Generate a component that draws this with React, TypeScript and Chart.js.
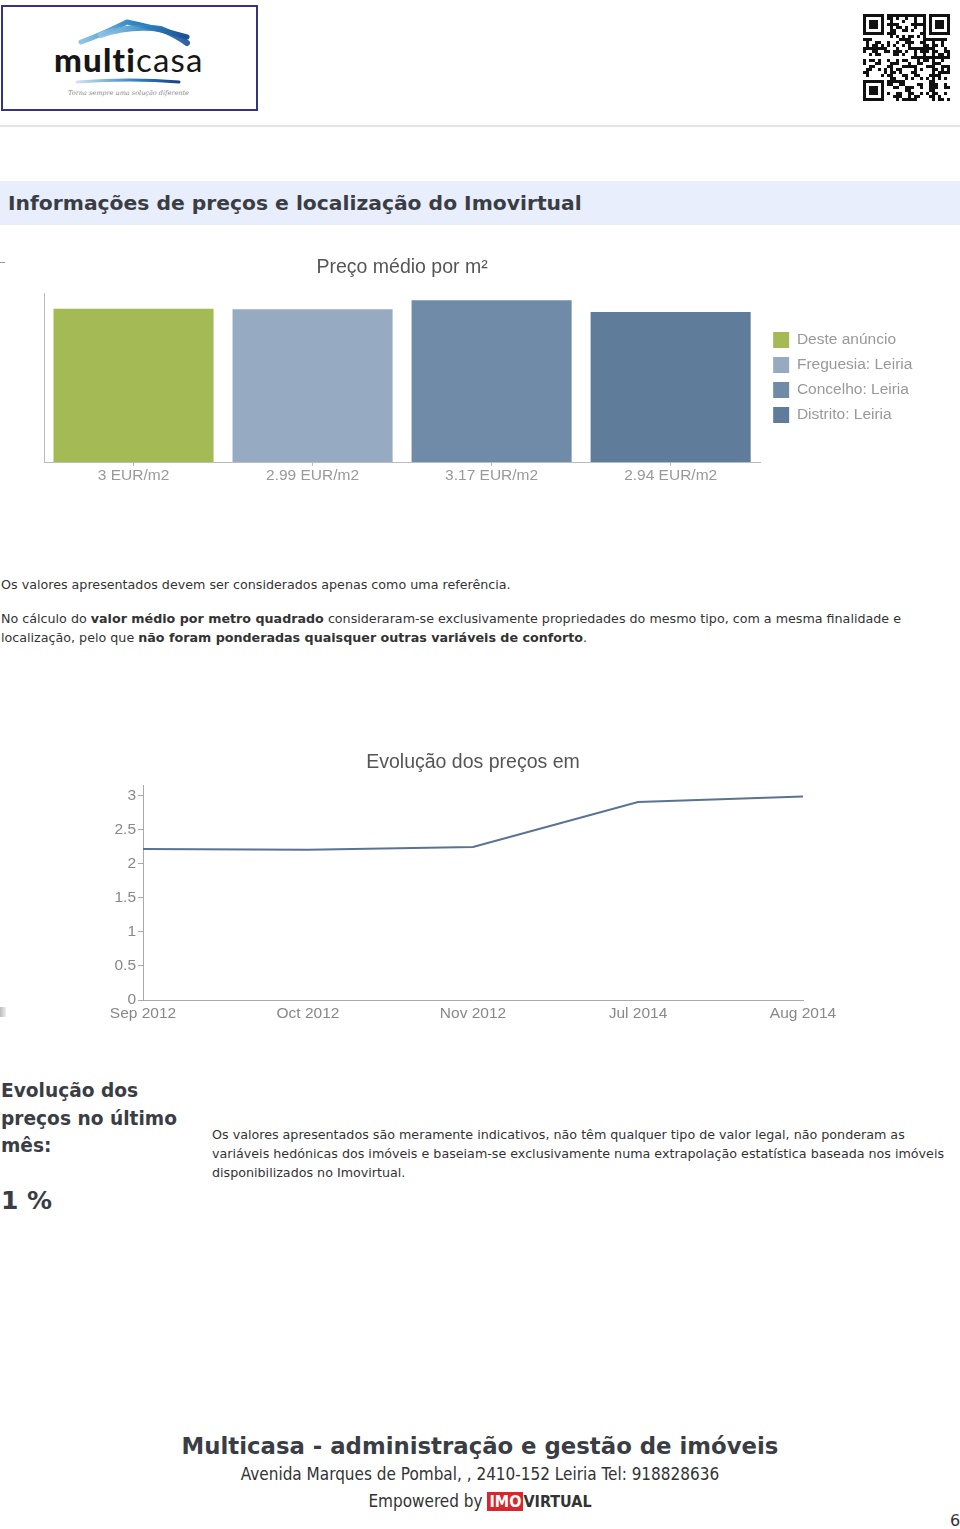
import React, { useEffect, useRef } from "react";
import { Chart, registerables } from "chart.js";

Chart.register(...registerables);

// ---- Data ----
const BAR_LABELS = ["3 EUR/m2", "2.99 EUR/m2", "3.17 EUR/m2", "2.94 EUR/m2"];
const BAR_VALUES = [3, 2.99, 3.17, 2.94];
const BAR_SERIES = ["Deste anúncio", "Freguesia: Leiria", "Concelho: Leiria", "Distrito: Leiria"];
const BAR_COLORS = ["#a3ba55", "#96abc1", "#708ba8", "#5f7c9b"];

const LINE_LABELS = ["Sep 2012", "Oct 2012", "Nov 2012", "Jul 2014", "Aug 2014"];
const LINE_VALUES = [2.22, 2.21, 2.25, 2.91, 2.99];
const LINE_Y_TICKS = [0, 0.5, 1, 1.5, 2, 2.5, 3];

const CHART_FONT = "'Liberation Sans', Arial, Helvetica, sans-serif";
const PAGE_FONT = "'DejaVu Sans', Verdana, sans-serif";

function QRCode() {
  const n = 29;
  const s = 3;
  const cells: JSX.Element[] = [];
  const finder = (r: number, c: number) => {
    const inBox = (r0: number, c0: number) => r >= r0 && r < r0 + 7 && c >= c0 && c < c0 + 7;
    const boxes = [[0, 0], [0, n - 7], [n - 7, 0]];
    for (const [r0, c0] of boxes) {
      if (inBox(r0, c0)) {
        const rr = r - r0, cc = c - c0;
        if (rr === 0 || rr === 6 || cc === 0 || cc === 6) return 1;
        if (rr >= 2 && rr <= 4 && cc >= 2 && cc <= 4) return 1;
        return 0;
      }
      if (r >= r0 - 1 && r <= r0 + 7 && c >= c0 - 1 && c <= c0 + 7) return 0;
    }
    return -1;
  };
  for (let r = 0; r < n; r++) {
    for (let c = 0; c < n; c++) {
      let v = finder(r, c);
      if (v === -1) v = ((r * 31 + c * 17 + r * c * 7 + (r ^ c) * 5) % 11) < 5 ? 1 : 0;
      if (v) cells.push(<rect key={r + "-" + c} x={c * s} y={r * s} width={s} height={s} fill="#111" />);
    }
  }
  return (
    <svg width={n * s} height={n * s} style={{ position: "absolute", left: 863, top: 14 }}>
      {cells}
    </svg>
  );
}

function Logo() {
  return (
    <svg width={257} height={106} style={{ position: "absolute", left: 1, top: 5 }}>
      <defs>
        <linearGradient id="sw" x1="0" x2="1" y1="0" y2="0">
          <stop offset="0" stopColor="#8fc4e6" />
          <stop offset="0.5" stopColor="#2f86c2" />
          <stop offset="1" stopColor="#1b4f96" />
        </linearGradient>
        <linearGradient id="sw2" x1="0" x2="1" y1="0" y2="0">
          <stop offset="0" stopColor="#cfe3f2" />
          <stop offset="0.6" stopColor="#2f7fbf" />
          <stop offset="1" stopColor="#1b3f86" />
        </linearGradient>
      </defs>
      <rect x={1} y={1} width={255} height={104} fill="#fff" stroke="#34357e" strokeWidth={2} />
      <path d="M80 37 Q100 30 126 17 Q150 22 186 32" stroke="url(#sw)" strokeWidth={5} fill="none" strokeLinecap="round" />
      <path d="M100 30 Q128 20 160 24 Q175 30 186 38" stroke="url(#sw)" strokeWidth={6} fill="none" strokeLinecap="round" opacity={0.9} />
      <text x={53} y={67} fontFamily="Lato, 'Open Sans', sans-serif" fontSize={33} letterSpacing={1.2} fill="#161616">
        <tspan fontWeight={900}>multi</tspan>
        <tspan fontWeight={400}>casa</tspan>
      </text>
      <path d="M76 77 Q130 73 178 77" stroke="url(#sw2)" strokeWidth={3} fill="none" strokeLinecap="round" />
      <text x={67} y={90} fontFamily="'DejaVu Serif', serif" fontStyle="italic" fontSize={6.5} fill="#888">
        Torna sempre uma solução diferente
      </text>
    </svg>
  );
}

export default function App() {
  const barRef = useRef<HTMLCanvasElement | null>(null);
  const lineRef = useRef<HTMLCanvasElement | null>(null);

  useEffect(() => {
    const axisFont = { family: CHART_FONT, size: 15.5 };
    const titleFont = { family: CHART_FONT, size: 19.5, weight: "normal" as const };

    const bar = new Chart(barRef.current!, {
      type: "bar",
      data: {
        labels: BAR_LABELS,
        datasets: [
          {
            data: BAR_VALUES,
            backgroundColor: BAR_COLORS,
            borderWidth: 0,
            categoryPercentage: 1,
            barPercentage: 0.894,
          },
        ],
      },
      options: {
        animation: false,
        responsive: false,
        maintainAspectRatio: false,
        layout: { padding: { left: 0, right: 43, top: 0, bottom: 0 } },
        plugins: {
          title: {
            display: true,
            text: "Preço médio por m²",
            fullSize: false,
            color: "#555",
            font: titleFont,
            padding: { top: 16.3, bottom: 13.3 },
          },
          legend: {
            display: true,
            position: "right",
            fullSize: false,
            onClick: () => {},
            labels: {
              boxWidth: 16,
              boxHeight: 16,
              padding: 9,
              color: "#999",
              font: axisFont,
              generateLabels: () =>
                BAR_SERIES.map((t, i) => ({
                  text: t,
                  fillStyle: BAR_COLORS[i],
                  strokeStyle: BAR_COLORS[i],
                  lineWidth: 0,
                  hidden: false,
                  index: i,
                  fontColor: "#999",
                })),
            },
          },
          tooltip: { enabled: false },
        },
        scales: {
          x: {
            grid: { display: true, drawOnChartArea: false, offset: false, tickLength: 4, color: "#bbb" },
            border: { display: true, color: "#bbb", width: 1 },
            ticks: { color: "#999", font: axisFont, padding: 0, maxRotation: 0, autoSkip: false },
            afterFit: (s: any) => {
              s.height = 28;
            },
          },
          y: {
            min: 0,
            max: 3.31,
            grid: { display: false },
            border: { display: true, color: "#bbb", width: 1 },
            ticks: { display: false },
            afterFit: (s: any) => {
              s.width = 44;
            },
          },
          y2: {
            position: "right",
            display: true,
            grid: { display: false },
            border: { display: false },
            ticks: { display: false },
            afterFit: (s: any) => {
              s.width = 4;
            },
          },
        },
      },
    });

    const line = new Chart(lineRef.current!, {
      type: "line",
      data: {
        labels: LINE_LABELS,
        datasets: [
          {
            data: LINE_VALUES,
            borderColor: "#5b7393",
            borderWidth: 2,
            pointRadius: 0,
            tension: 0,
            fill: false,
          },
        ],
      },
      options: {
        animation: false,
        responsive: false,
        maintainAspectRatio: false,
        layout: { padding: { left: 0, right: 157, top: 0, bottom: 0 } },
        plugins: {
          legend: { display: false },
          tooltip: { enabled: false },
          title: {
            display: true,
            text: "Evolução dos preços em",
            fullSize: false,
            color: "#555",
            font: titleFont,
            padding: { top: 21.3, bottom: 10.3 },
          },
        },
        scales: {
          x: {
            offset: false,
            grid: { display: false, drawTicks: false },
            border: { display: true, color: "#aaa", width: 1 },
            ticks: { color: "#888", font: axisFont, padding: 4, maxRotation: 0, autoSkip: false },
            afterFit: (s: any) => {
              s.height = 40;
            },
          },
          y: {
            min: 0,
            max: 3.16,
            grid: { display: true, drawOnChartArea: false, tickLength: 5, color: "#aaa" },
            border: { display: true, color: "#aaa", width: 1 },
            ticks: {
              color: "#888",
              font: axisFont,
              padding: 2,
              callback: (v: any) => String(v),
            },
            afterBuildTicks: (s: any) => {
              s.ticks = LINE_Y_TICKS.map((v) => ({ value: v }));
            },
            afterFit: (s: any) => {
              s.width = 143;
            },
          },
        },
      },
    });

    return () => {
      bar.destroy();
      line.destroy();
    };
  }, []);

  const txt: React.CSSProperties = {
    position: "absolute",
    fontFamily: PAGE_FONT,
    color: "#333",
    whiteSpace: "nowrap",
    margin: 0,
  };

  return (
    <div style={{ position: "absolute", left: 0, top: 0, width: 960, height: 1529, background: "#fff", overflow: "hidden" }}>
      <Logo />
      <QRCode />
      <div style={{ position: "absolute", left: 0, top: 125, width: 960, height: 2, background: "#e2e4e8" }} />

      <div style={{ position: "absolute", left: 0, top: 181, width: 960, height: 44, background: "#e8eefb" }} />
      <div style={{ ...txt, left: 8, top: 189, fontSize: 20.3, lineHeight: "28px", fontWeight: "bold", color: "#3a3d44" }}>
        Informações de preços e localização do Imovirtual
      </div>

      <div style={{ position: "absolute", left: 0, top: 262, width: 5, height: 1, background: "#999" }} />
      <canvas ref={barRef} width={960} height={250} style={{ position: "absolute", left: 0, top: 240, width: 960, height: 250 }} />

      <div style={{ ...txt, left: 1, top: 575, fontSize: 12.7, lineHeight: "19px" }}>
        Os valores apresentados devem ser considerados apenas como uma referência.
      </div>
      <div style={{ ...txt, left: 1, top: 608.5, fontSize: 12.7, lineHeight: "19px" }}>
        No cálculo do <b>valor médio por metro quadrado</b> consideraram-se exclusivamente propriedades do mesmo tipo, com a mesma finalidade e
        <br />
        localização, pelo que <b>não foram ponderadas quaisquer outras variáveis de conforto</b>.
      </div>

      <div style={{ position: "absolute", left: 0, top: 1007, width: 6, height: 10, background: "linear-gradient(90deg,#bbb,#eee)" }} />
      <canvas ref={lineRef} width={960} height={310} style={{ position: "absolute", left: 0, top: 730, width: 960, height: 310 }} />

      <div style={{ ...txt, left: 1, top: 1077, fontSize: 18.6, lineHeight: "27.5px", fontWeight: "bold", color: "#3a3d44" }}>
        Evolução dos
        <br />
        preços no último
        <br />
        mês:
      </div>
      <div style={{ ...txt, left: 1, top: 1185, fontSize: 25, lineHeight: "32px", fontWeight: "bold", color: "#3a3d44" }}>
        1 %
      </div>
      <div style={{ ...txt, left: 212, top: 1124.5, fontSize: 12.7, lineHeight: "19px" }}>
        Os valores apresentados são meramente indicativos, não têm qualquer tipo de valor legal, não ponderam as
        <br />
        variáveis hedónicas dos imóveis e baseiam-se exclusivamente numa extrapolação estatística baseada nos imóveis
        <br />
        disponibilizados no Imovirtual.
      </div>

      <div style={{ ...txt, left: 0, width: 960, textAlign: "center", top: 1432, fontSize: 22.8, lineHeight: "28px", fontWeight: "bold", color: "#3a3d44" }}>
        Multicasa - administração e gestão de imóveis
      </div>
      <div style={{ ...txt, left: 0, width: 960, textAlign: "center", top: 1464, fontSize: 17, lineHeight: "20px", fontFamily: "'DejaVu Sans Condensed', 'DejaVu Sans', sans-serif" }}>
        Avenida Marques de Pombal, , 2410-152 Leiria Tel: 918828636
      </div>
      <div style={{ ...txt, left: 0, width: 960, textAlign: "center", top: 1491, fontSize: 17, lineHeight: "20px", fontFamily: "'DejaVu Sans Condensed', 'DejaVu Sans', sans-serif" }}>
        Empowered by{" "}
        <span style={{ fontFamily: "'Liberation Sans Narrow', 'DejaVu Sans Condensed', sans-serif", fontWeight: "bold", fontSize: 16 }}>
          <span style={{ background: "#d9262c", color: "#fff", padding: "0 2px" }}>IMO</span>
          <span style={{ color: "#333" }}>VIRTUAL</span>
        </span>
      </div>
      <div style={{ ...txt, left: 950, top: 1511, fontSize: 16, lineHeight: "20px" }}>6</div>
    </div>
  );
}
